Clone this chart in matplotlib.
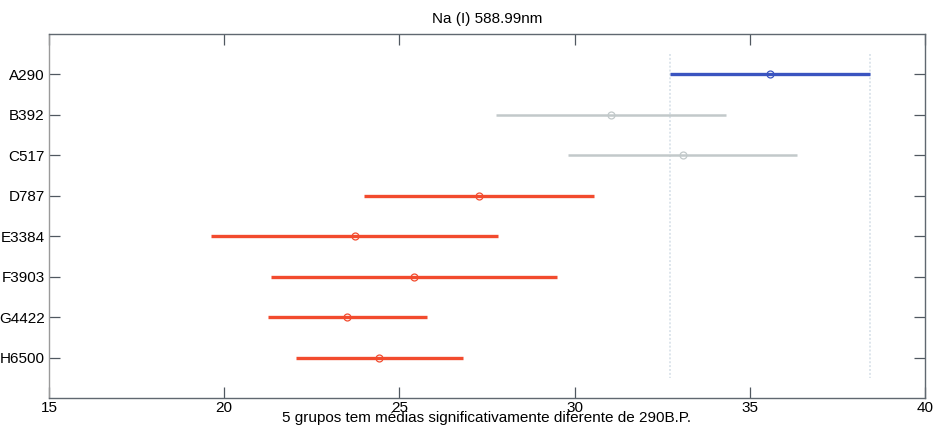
import matplotlib
matplotlib.use('Agg')
import matplotlib.pyplot as plt
import numpy as np

plt.rcParams['font.family'] = ['Liberation Sans', 'DejaVu Sans']

groupLabels = ['A290', 'B392', 'C517', 'D787', 'E3384', 'F3903', 'G4422', 'H6500']
groupMeans = [35.57, 31.05, 33.09, 27.27, 23.72, 25.42, 23.51, 24.43]
lowerBounds = [32.72, 27.76, 29.81, 23.98, 19.63, 21.33, 21.25, 22.04]
upperBounds = [38.42, 34.31, 36.36, 30.55, 27.81, 29.51, 25.78, 26.82]
groupStatus = ['selected', 'same', 'same', 'diff', 'diff', 'diff', 'diff', 'diff']

statusColor = {'selected': '#3a54c0', 'same': '#c2c9ca', 'diff': '#f24b2e'}
statusWidth = {'selected': 2.4, 'same': 1.8, 'diff': 2.4}

fig = plt.figure(figsize=(9.34, 4.32), dpi=100)
ax = fig.add_axes([49 / 934, 1 - 398 / 432, 876 / 934, 364 / 432])

yPositions = np.arange(1, len(groupLabels) + 1)
selectedID = groupStatus.index('selected')
# reference lines at the bounds of the selected group
for xRef in [lowerBounds[selectedID], upperBounds[selectedID]]:
    ax.plot([xRef, xRef], [0.5, 8.5], color='#dde5ec', linewidth=1.4, linestyle=(0, (1, 1)), zorder=1)

for y, mean, lo, hi, status in zip(yPositions, groupMeans, lowerBounds, upperBounds, groupStatus):
    col = statusColor[status]
    ax.plot([lo, hi], [y, y], color=col, linewidth=statusWidth[status], solid_capstyle='butt', zorder=2)
    ax.plot([mean], [y], marker='o', markersize=5, markerfacecolor='none',
            markeredgecolor=col, markeredgewidth=0.9, zorder=3)

ax.set_xlim(15, 40)
ax.set_ylim(9, 0)
ax.set_xticks([15, 20, 25, 30, 35, 40])
ax.set_yticks(yPositions)
ax.set_yticklabels(groupLabels)
ax.tick_params(direction='in', length=8, width=0.9, color='#505860', labelsize=11,
               top=True, right=True, pad=3)
ax.tick_params(axis='x', pad=2)
for spineName, spine in ax.spines.items():
    spine.set_color('#606870')
    spine.set_linewidth(1.0)
ax.spines['left'].set_color('#9a9a9a')

ax.set_title('Na (I) 588.99nm', fontsize=11, pad=8)
ax.set_xlabel('5 grupos tem médias significativamente diferente de 290B.P.', fontsize=11, labelpad=-2.5)

fig.savefig('out.png', dpi=100)
